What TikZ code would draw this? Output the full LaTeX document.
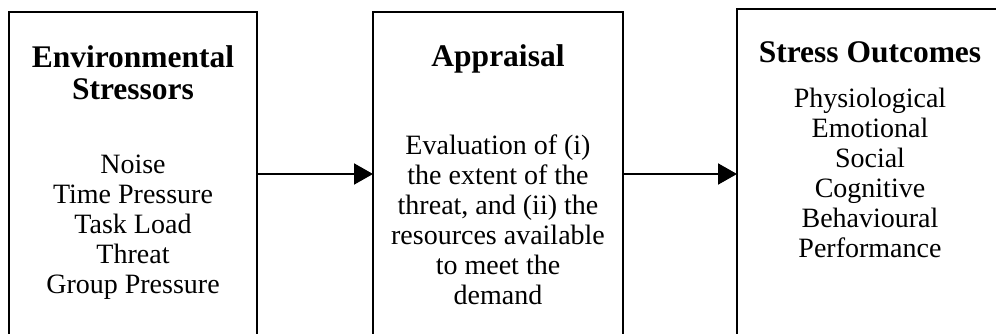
\documentclass[tikz,border=0pt]{standalone}
\usepackage{fontspec}
\setmainfont{Liberation Serif}
\usetikzlibrary{arrows.meta}
\begin{document}
\begin{tikzpicture}[x=1pt,y=1pt,
  panel/.style={draw=black, line width=2pt, inner sep=0pt, outer sep=0pt,
                minimum height=360pt, anchor=north},
  heading/.style={anchor=base, inner sep=0pt,
                  font=\fontsize{31.5}{34}\selectfont\bfseries},
  entry/.style={anchor=base, inner sep=0pt, font=\fontsize{28}{30}\selectfont},
  flow/.style={line width=2pt, -{Triangle[length=19pt,width=21pt]}}]
\clip (0,0) rectangle (996,333);
\fill[white] (0,0) rectangle (996,333);

% three panels, open towards the bottom edge
\node[panel, minimum width=248pt] (stressors) at (133,321) {};
\node[panel, minimum width=250pt] (appraisal) at (498,321) {};
\node[panel, minimum width=266pt] (outcomes)  at (870,324) {};

% headings
\node[heading] (stressors-h1) at (133,266) {Environmental};
\node[heading] (stressors-h2) at (133,234) {Stressors};
\node[heading] (appraisal-h)  at (498,267) {Appraisal};
\node[heading] (outcomes-h)   at (870,271) {Stress Outcomes};

% panel contents
\foreach \t [count=\i] in {Noise, Time Pressure, Task Load, Threat, Group Pressure}
  \node[entry] (stressors-\i) at (133,{160-30*(\i-1)}) {\t};
\foreach \t [count=\i] in {Evaluation of (i), the extent of the, {threat, and (ii) the},
                          resources available, to meet the, demand}
  \node[entry] (appraisal-\i) at (498,{179-30*(\i-1)}) {\t};
\foreach \t [count=\i] in {Physiological, Emotional, Social, Cognitive, Behavioural, Performance}
  \node[entry] (outcomes-\i) at (870,{226-30*(\i-1)}) {\t};

% connectors
\coordinate (flowy) at (0,159);
\draw[flow] (stressors.east |- flowy) -- (appraisal.west |- flowy);
\draw[flow] (appraisal.east |- flowy) -- (outcomes.west |- flowy);
\end{tikzpicture}
\end{document}
